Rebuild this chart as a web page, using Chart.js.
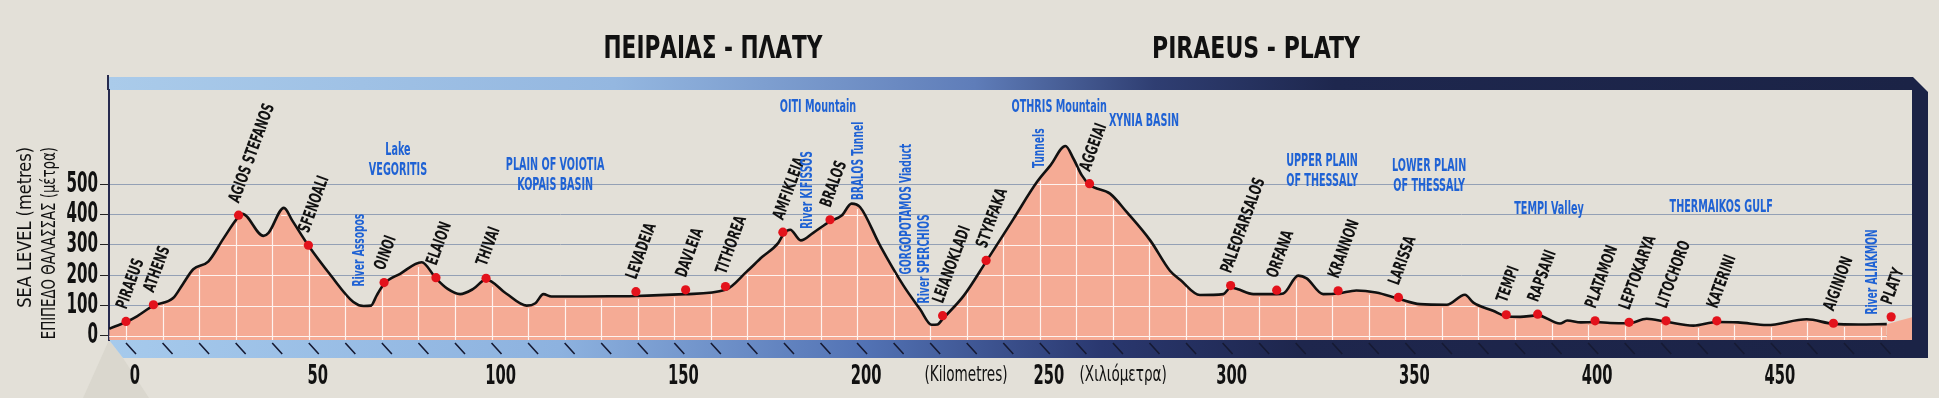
<!DOCTYPE html>
<html>
<head>
<meta charset="utf-8">
<script src="https://cdn.jsdelivr.net/npm/chart.js@4.4.0/dist/chart.umd.min.js"></script>
<style>
  html, body { margin: 0; padding: 0; background: #e3e0d8; }
  #profile { display: block; }
</style>
</head>
<body>
<canvas id="profile" width="1939" height="398"></canvas>
<script>
// line profile, km from Piraeus / metres above sea level
const profileKm = [-4.6, 0, 3, 7.5, 12.9, 15.5, 18.4, 22.5, 26.6, 30.8, 31.8, 37.6, 39, 43.2, 45.5, 49.9,
  56, 62.2, 65, 67, 68.6, 70.6, 75, 80.9, 84.8, 88, 91.4, 95, 98.5, 104, 109.6, 112, 114.2, 116.4,
  125, 134, 139.5, 153, 164, 169.8, 174, 178.4, 180, 181.7, 184.6, 188, 192.6, 195.8, 198.5, 200.8,
  206.3, 212.7, 217.2, 220.4, 222, 223.4, 229.2, 235.3, 242.8, 249.2, 252.9, 257, 259.2, 261.5,
  263.6, 269.2, 273.8, 280.2, 285.6, 288.4, 293.8, 300.2, 302.2, 304, 308.4, 314.8, 316.6, 320.7,
  323, 327.5, 331.6, 336.6, 342, 348.1, 354, 361.3, 366.3, 368.6, 374, 377.6, 381.4, 386.2, 392.3,
  394.3, 398, 401.9, 406, 411.2, 416, 421.3, 428.8, 435.2, 441, 448.9, 459.8, 467.1, 474, 481.7];
const profileAlt = [24, 46, 65, 100, 125, 170, 220, 245, 320, 393, 403, 330, 340, 422, 380, 298,
  200, 112, 99, 100, 134, 172, 205, 243, 190, 155, 138, 155, 186, 140, 100, 108, 138, 130,
  130, 131, 132, 138, 152, 212, 260, 306, 338, 350, 315, 340, 378, 397, 436, 425,
  298, 166, 89, 37, 38, 56, 133, 245, 386, 507, 562, 626, 584, 529,
  498, 469, 408, 315, 215, 185, 135, 138, 160, 155, 138, 138, 140, 199,
  190, 138, 140, 150, 143, 123, 105, 103, 136, 110, 83, 65, 63, 68, 41,
  51, 45, 46, 43, 42, 57, 47, 34, 46, 45, 36, 55, 40, 38, 39];

// little piece of ground after Platy (fill only)
const tailKm = [481.7, 485, 488.6];
const tailAlt = [39, 50, 62];

// stations
const towns = ['PIRAEUS', 'ATHENS', 'AGIOS STEFANOS', 'SFENOALI', 'OINOI', 'ELAION', 'THIVAI',
  'LEVADEIA', 'DAVLEIA', 'TITHOREA', 'AMFIKLEIA', 'BRALOS', 'LEIANOKLADI', 'STYRFAKA', 'AGGEIAI',
  'PALEOFARSALOS', 'ORFANA', 'KRANNON', 'LARISSA', 'TEMPI', 'RAPSANI', 'PLATAMON', 'LEPTOKARYA',
  'LITOCHORO', 'KATERINI', 'AIGINION', 'PLATY'];
const townKm = [0, 7.5, 30.8, 49.9, 70.6, 84.8, 98.5, 139.5, 153.1, 164, 179.7, 192.6, 223.4, 235.3,
  263.6, 302.2, 314.8, 331.6, 348.1, 377.6, 386.2, 401.9, 411.2, 421.3, 435.2, 467.1, 482.9];
const townAlt = [48, 103, 398, 299, 176, 192, 190, 146, 152, 163, 342, 383, 67, 249, 502,
  166, 151, 149, 127, 70, 72, 50, 45, 50, 50, 42, 63];

// blue region names (horizontal)
const regions = [['Lake', 'VEGORITIS'], ['PLAIN OF VOIOTIA', 'KOPAIS BASIN'], ['OITI Mountain'],
  ['OTHRIS Mountain'], ['XYNIA BASIN'], ['UPPER PLAIN', 'OF THESSALY'], ['LOWER PLAIN', 'OF THESSALY'],
  ['TEMPI Valley'], ['THERMAIKOS GULF']];
const regionKm = [74.4, 117.4, 189.3, 255.3, 278.5, 327.2, 356.5, 389.3, 436.4];
const regionAlt = [577, 527, 754, 754, 708, 542, 526, 418, 422];

// blue features written upwards
const features = ['River Assopos', 'River KIFISSOS', 'BRALOS Tunnel', 'GORGOPOTAMOS Viaduct',
  'River SPERCHIOS', 'Tunnels', 'River ALIAKMON'];
const featureKm = [64, 186.6, 200.5, 213.7, 218.6, 250.1, 478];
const featureAlt = [283, 481, 577, 418, 254, 619, 211];

const xTicks = [0, 50, 100, 150, 200, 250, 300, 350, 400, 450];
const yTicks = [0, 100, 200, 300, 400, 500];

const NARROW = "'Liberation Sans Narrow', 'DejaVu Sans Condensed', sans-serif";
const PINK = '#f5ab95';
const BLUE = '#1f62d4';

// canvas text squeezed sideways to get the poster's narrow lettering
function squeezed(ctx, text, x, y, angle, sx) {
  ctx.save();
  ctx.translate(x, y);
  ctx.rotate(angle);
  ctx.scale(sx, 1);
  ctx.fillText(text, 0, 0);
  ctx.restore();
}

const framePlugin = {
  id: 'frame',
  beforeDraw(chart) {
    const ctx = chart.ctx;
    const a = chart.chartArea;
    ctx.save();
    ctx.fillStyle = '#e3e0d8';
    ctx.fillRect(0, 0, chart.width, chart.height);

    // floor shadow under left corner
    ctx.fillStyle = '#dad7ce';
    ctx.beginPath();
    ctx.moveTo(a.left, a.bottom);
    ctx.lineTo(a.left - 26, chart.height);
    ctx.lineTo(a.left + 40, chart.height);
    ctx.lineTo(a.left + 14, a.bottom + 18);
    ctx.closePath();
    ctx.fill();

    const topG = ctx.createLinearGradient(a.left, 0, a.right, 0);
    topG.addColorStop(0, '#aacbea');
    topG.addColorStop(0.28, '#94b7e0');
    topG.addColorStop(0.48, '#5f7db9');
    topG.addColorStop(0.58, '#2f3e72');
    topG.addColorStop(0.68, '#1e274e');
    topG.addColorStop(1, '#1b2346');
    ctx.fillStyle = topG;
    ctx.fillRect(a.left, a.top - 13, a.right - a.left + 1, 13);

    ctx.fillStyle = '#1b2346';
    ctx.beginPath();
    ctx.moveTo(a.right, a.top - 13);
    ctx.lineTo(a.right + 1, a.top - 13);
    ctx.lineTo(a.right + 16, a.top + 2);
    ctx.lineTo(a.right + 16, a.bottom + 18);
    ctx.lineTo(a.right, a.bottom + 18);
    ctx.closePath();
    ctx.fill();

    const botG = ctx.createLinearGradient(a.left, 0, a.right, 0);
    botG.addColorStop(0, '#a6caec');
    botG.addColorStop(0.25, '#8db2df');
    botG.addColorStop(0.42, '#5272b4');
    botG.addColorStop(0.55, '#2a3870');
    botG.addColorStop(0.66, '#1e264d');
    botG.addColorStop(1, '#1b2346');
    ctx.fillStyle = botG;
    ctx.beginPath();
    ctx.moveTo(a.left, a.bottom);
    ctx.lineTo(a.right + 16, a.bottom);
    ctx.lineTo(a.right + 16, a.bottom + 18);
    ctx.lineTo(a.left + 14, a.bottom + 18);
    ctx.closePath();
    ctx.fill();

    ctx.strokeStyle = '#262a4e';
    ctx.lineWidth = 2;
    ctx.beginPath();
    ctx.moveTo(a.left - 1, a.top - 15);
    ctx.lineTo(a.left - 1, a.top);
    ctx.stroke();
    ctx.restore();
  },
  // white grid showing only inside the pink ground
  afterDatasetDraw(chart, args) {
    if (args.meta.label !== 'profile') return;
    const ctx = chart.ctx;
    const a = chart.chartArea;
    const pts = args.meta.data;
    const xs = chart.scales.x, ys = chart.scales.y;
    ctx.save();
    ctx.beginPath();
    ctx.moveTo(pts[0].x, a.bottom);
    pts.forEach(p => ctx.lineTo(p.x, p.y + 3));
    ctx.lineTo(pts[pts.length - 1].x, a.bottom);
    ctx.closePath();
    ctx.clip();
    ctx.strokeStyle = 'rgba(255,255,255,0.85)';
    ctx.lineWidth = 1.2;
    ctx.beginPath();
    for (let km = 0; km <= 480; km += 10) {
      const x = Math.round(xs.getPixelForValue(km)) + 0.5;
      ctx.moveTo(x, a.top);
      ctx.lineTo(x, a.bottom);
    }
    yTicks.forEach(v => {
      const y = Math.round(ys.getPixelForValue(v)) + 0.5;
      ctx.moveTo(a.left, y);
      ctx.lineTo(a.right, y);
    });
    ctx.stroke();
    ctx.restore();
  },
  afterDraw(chart) {
    const ctx = chart.ctx;
    const a = chart.chartArea;
    const xs = chart.scales.x, ys = chart.scales.y;
    ctx.save();

    // slanted ticks on the bottom band
    ctx.strokeStyle = '#161a33';
    ctx.lineWidth = 1.6;
    ctx.beginPath();
    for (let km = 0; km <= 480; km += 10) {
      const x = xs.getPixelForValue(km);
      ctx.moveTo(x, a.bottom + 3);
      ctx.lineTo(x + 10, a.bottom + 14);
    }
    ctx.stroke();

    // tick labels of both axes
    ctx.fillStyle = '#111';
    ctx.textBaseline = 'middle';
    ctx.textAlign = 'center';
    ctx.font = 'bold 26px ' + NARROW;
    xs.ticks.forEach(t => squeezed(ctx, String(t.value), xs.getPixelForValue(t.value) + 9, 377, 0, 0.63));
    ctx.textAlign = 'right';
    ctx.font = 'bold 28px ' + NARROW;
    ys.ticks.forEach(t => squeezed(ctx, String(t.value), a.left - 11, ys.getPixelForValue(t.value), 0, 0.6));

    // titles
    ctx.textAlign = 'center';
    ctx.font = 'bold 31px ' + NARROW;
    squeezed(ctx, 'ΠΕΙΡΑΙΑΣ - ΠΛΑΤΥ', 713, 50, 0, 0.775);
    squeezed(ctx, 'PIRAEUS - PLATY', 1256, 50, 0, 0.79);

    // axis unit words
    ctx.font = '21px ' + NARROW;
    squeezed(ctx, '(Kilometres)', xs.getPixelForValue(229.8), 376, 0, 0.72);
    squeezed(ctx, '(Χιλιόμετρα)', xs.getPixelForValue(272.8), 376, 0, 0.72);

    // y axis title, two lines
    ctx.textAlign = 'right';
    ctx.font = '20px ' + NARROW;
    squeezed(ctx, 'SEA LEVEL (metres)', 26, 147, -Math.PI / 2, 0.9);
    squeezed(ctx, 'ΕΠΙΠΕΔΟ ΘΑΛΑΣΣΑΣ (μέτρα)', 50, 147, -Math.PI / 2, 0.74);

    // station names
    const marks = chart.getDatasetMeta(0).data;
    ctx.textAlign = 'left';
    ctx.font = 'bold 17px ' + NARROW;
    marks.forEach((p, i) => {
      squeezed(ctx, towns[i], p.x - 4, p.y - 13, -70 * Math.PI / 180, 0.7);
    });

    // blue notes
    ctx.fillStyle = BLUE;
    ctx.textAlign = 'center';
    ctx.font = 'bold 17px ' + NARROW;
    regions.forEach((lines, i) => {
      const cx = xs.getPixelForValue(regionKm[i]);
      const cy = ys.getPixelForValue(regionAlt[i]) - (lines.length - 1) * 10;
      lines.forEach((t, j) => squeezed(ctx, t, cx, cy + j * 20, 0, 0.63));
    });
    ctx.font = 'bold 15px ' + NARROW;
    features.forEach((t, i) => {
      squeezed(ctx, t, xs.getPixelForValue(featureKm[i]), ys.getPixelForValue(featureAlt[i]), -Math.PI / 2, 0.68);
    });
    ctx.restore();
  }
};

new Chart(document.getElementById('profile'), {
  type: 'line',
  data: {
    datasets: [
      {
        label: 'stations',
        data: townKm.map((k, i) => ({ x: k, y: townAlt[i] })),
        showLine: false,
        pointRadius: 4.6,
        pointBackgroundColor: '#e3121b',
        pointBorderWidth: 0,
        order: 0
      },
      {
        label: 'profile',
        data: profileKm.map((k, i) => ({ x: k, y: profileAlt[i] })),
        borderColor: '#111',
        borderWidth: 2.6,
        pointRadius: 0,
        cubicInterpolationMode: 'monotone',
        fill: 'start',
        backgroundColor: PINK,
        order: 1
      },
      {
        label: 'tail',
        data: tailKm.map((k, i) => ({ x: k, y: tailAlt[i] })),
        borderWidth: 0,
        pointRadius: 0,
        fill: 'start',
        backgroundColor: PINK,
        order: 2
      }
    ]
  },
  options: {
    responsive: false,
    animation: false,
    layout: { padding: { top: 90, right: 27, left: 0, bottom: 0 } },
    plugins: { legend: { display: false }, tooltip: { enabled: false } },
    scales: {
      x: {
        type: 'linear',
        min: -4.65,
        max: 488.6,
        afterBuildTicks: s => { s.ticks = xTicks.map(v => ({ value: v })); },
        afterFit: s => { s.height = 58; },
        grid: { display: false },
        border: { display: false },
        ticks: { display: false }
      },
      y: {
        min: -13.2,
        max: 810.5,
        afterBuildTicks: s => { s.ticks = yTicks.map(v => ({ value: v })); },
        afterFit: s => { s.width = 109; },
        grid: { color: '#93a0b5', lineWidth: 1, tickLength: 9, tickColor: '#222' },
        border: { display: true, color: '#262a4e', width: 2 },
        ticks: { display: false }
      }
    }
  },
  plugins: [framePlugin]
});
</script>
</body>
</html>
